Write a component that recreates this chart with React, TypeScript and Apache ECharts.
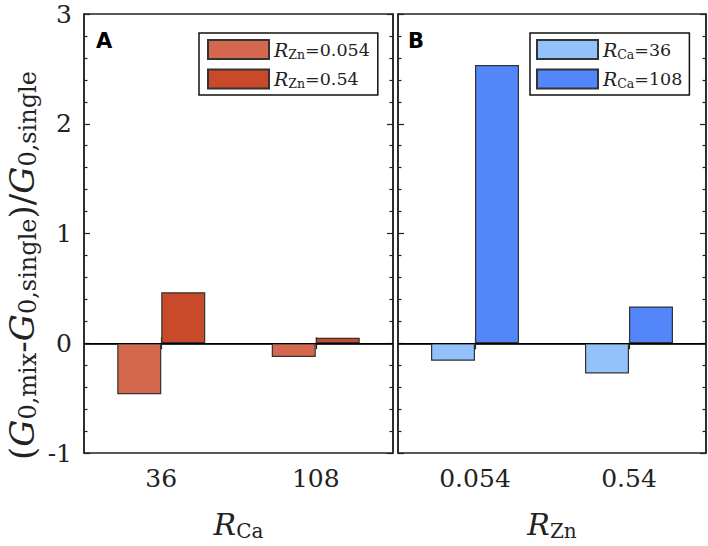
import React, { useEffect, useRef } from "react";
import * as echarts from "echarts";

// panel A: R_Ca on x, one bar per R_Zn
const categoriesA = ["36", "108"];
const seriesZn0054 = [-0.465, -0.125];
const seriesZn054 = [0.465, 0.05];

// panel B: R_Zn on x, one bar per R_Ca
const categoriesB = ["0.054", "0.54"];
const seriesCa36 = [-0.16, -0.275];
const seriesCa108 = [2.535, 0.335];

const yMin = -1;
const yMax = 3;

const serif = "DejaVu Serif";
const ink = "#222";

// rich styles for math-like labels (italic symbol + upright subscript)
const yNameRich = {
  i: { fontFamily: serif, fontStyle: "italic" as const, fontSize: 34, lineHeight: 36, color: ink, verticalAlign: "middle" as const },
  t: { fontFamily: serif, fontSize: 34, lineHeight: 36, color: ink, verticalAlign: "middle" as const },
  s: { fontFamily: serif, fontSize: 24, lineHeight: 16, color: ink, verticalAlign: "bottom" as const },
};

const xNameRich = {
  i: { fontFamily: serif, fontStyle: "italic" as const, fontSize: 30, lineHeight: 34, color: ink, verticalAlign: "middle" as const },
  s: { fontFamily: serif, fontSize: 20, lineHeight: 14, color: ink, verticalAlign: "bottom" as const },
};

const legendRich = {
  i: { fontFamily: serif, fontStyle: "italic" as const, fontSize: 19, lineHeight: 22, color: ink, verticalAlign: "middle" as const },
  s: { fontFamily: serif, fontSize: 12.5, lineHeight: 9, color: ink, verticalAlign: "bottom" as const },
  t: { fontFamily: serif, fontSize: 17.5, lineHeight: 22, color: ink, verticalAlign: "middle" as const },
};

const App: React.FC = () => {
  const chartRef = useRef<HTMLDivElement>(null);

  useEffect(() => {
    document.body.style.margin = "0";
    const chartDom = chartRef.current;
    if (!chartDom) return;
    const myChart = echarts.init(chartDom, null, { renderer: "svg" });

    const frame = "#222";

    const valueAxis = (gridIndex: number, position: "left" | "right", labels: boolean) => ({
      type: "value" as const,
      gridIndex,
      position,
      min: yMin,
      max: yMax,
      interval: 1,
      axisLine: { show: true, lineStyle: { color: frame, width: 1.5 } },
      axisTick: { show: true, inside: true, length: 6, lineStyle: { color: frame, width: 1.2 } },
      minorTick: { show: true, splitNumber: 5, length: 3.5, lineStyle: { color: frame, width: 1.2 } },
      splitLine: { show: false },
      axisLabel: {
        show: labels,
        margin: 12,
        fontFamily: serif,
        fontSize: 25,
        color: ink,
      },
    });

    const categoryAxis = (gridIndex: number, position: "top" | "bottom", data: string[], labels: boolean) => ({
      type: "category" as const,
      gridIndex,
      position,
      data,
      axisLine: { show: true, lineStyle: { color: frame, width: 1.5 } },
      axisTick: { show: true, inside: true, alignWithLabel: true, length: 6, lineStyle: { color: frame, width: 1.2 } },
      axisLabel: {
        show: labels,
        margin: 13,
        fontFamily: serif,
        fontSize: 25,
        color: ink,
      },
    });

    const zeroLine = {
      silent: true,
      symbol: ["none", "none"],
      label: { show: false },
      lineStyle: { color: "#000", width: 1, type: "solid" as const },
      data: [{ yAxis: 0 }],
    };

    const barBorder = { borderColor: "#333", borderWidth: 1.2 };

    const legendBase = {
      orient: "vertical",
      top: 33,
      itemGap: 8,
      itemWidth: 61,
      itemHeight: 19,
      borderColor: "#111",
      borderWidth: 1.5,
      backgroundColor: "#fff",
      icon: "rect",
      textStyle: { rich: legendRich },
    };

    const option: any = {
      animation: false,
      backgroundColor: "#fff",
      grid: [
        { left: 84, top: 14, width: 309, height: 445, show: true, borderColor: frame, borderWidth: 1.5 },
        { left: 398, top: 14, width: 308, height: 445, show: true, borderColor: frame, borderWidth: 1.5 },
      ],
      xAxis: [
        {
          ...categoryAxis(0, "bottom", categoriesA, true),
          name: "{i|R}{s|Ca}",
          nameLocation: "middle",
          nameGap: 54,
          nameTextStyle: { rich: xNameRich },
        },
        {
          ...categoryAxis(1, "bottom", categoriesB, true),
          name: "{i|R}{s|Zn}",
          nameLocation: "middle",
          nameGap: 54,
          nameTextStyle: { rich: xNameRich },
        },
        categoryAxis(0, "top", categoriesA, false),
        categoryAxis(1, "top", categoriesB, false),
      ],
      yAxis: [
        {
          ...valueAxis(0, "left", true),
          name: "{t|(}{i|G}{s|0,mix}{t|-}{i|G}{s|0,single}{t|)/}{i|G}{s|0,single}",
          nameLocation: "middle",
          nameGap: 44,
          nameTextStyle: { rich: yNameRich, padding: [0, 64, 0, 0] },
        },
        valueAxis(1, "left", false),
        valueAxis(0, "right", false),
        valueAxis(1, "right", false),
      ],
      legend: [
        {
          ...legendBase,
          left: 199,
          padding: [6, 8, 5, 8],
          data: ["Zn0054", "Zn054"],
          formatter: (name: string) =>
            name === "Zn0054" ? "{i|R}{s|Zn}{t|=0.054}" : "{i|R}{s|Zn}{t|=0.54}",
        },
        {
          ...legendBase,
          left: 530,
          padding: [6, 7, 5, 6],
          data: ["Ca36", "Ca108"],
          formatter: (name: string) =>
            name === "Ca36" ? "{i|R}{s|Ca}{t|=36}" : "{i|R}{s|Ca}{t|=108}",
        },
      ],
      series: [
        {
          name: "Zn0054",
          type: "bar",
          xAxisIndex: 0,
          yAxisIndex: 0,
          barWidth: 44,
          barGap: "0%",
          itemStyle: { color: "#D3684E", ...barBorder },
          data: seriesZn0054,
          markLine: zeroLine,
        },
        {
          name: "Zn054",
          type: "bar",
          xAxisIndex: 0,
          yAxisIndex: 0,
          barWidth: 44,
          barGap: "0%",
          itemStyle: { color: "#C94A2B", ...barBorder },
          data: seriesZn054,
        },
        {
          name: "Ca36",
          type: "bar",
          xAxisIndex: 1,
          yAxisIndex: 1,
          barWidth: 44,
          barGap: "0%",
          itemStyle: { color: "#93C1FA", ...barBorder },
          data: seriesCa36,
          markLine: zeroLine,
        },
        {
          name: "Ca108",
          type: "bar",
          xAxisIndex: 1,
          yAxisIndex: 1,
          barWidth: 44,
          barGap: "0%",
          itemStyle: { color: "#5386F8", ...barBorder },
          data: seriesCa108,
        },
      ],
      graphic: [
        {
          type: "text",
          left: 96,
          top: 30,
          style: { text: "A", font: "bold 21px 'DejaVu Sans'", fill: "#000" },
        },
        {
          type: "text",
          left: 408,
          top: 30,
          style: { text: "B", font: "bold 21px 'DejaVu Sans'", fill: "#000" },
        },
      ],
    };

    myChart.setOption(option);

    return () => {
      myChart.dispose();
    };
  }, []);

  return <div ref={chartRef} style={{ width: "708px", height: "546px" }} />;
};

export default App;
